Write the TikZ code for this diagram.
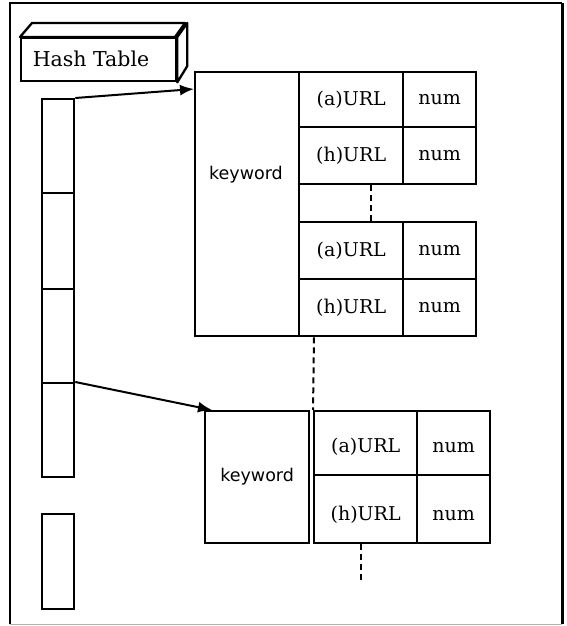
\documentclass[tikz,border=0pt]{standalone}
\usepackage{fontspec}
\setmainfont{DejaVu Serif}
\newfontfamily\kwfont{DejaVu Sans}
\usetikzlibrary{arrows.meta}
\begin{document}
\begin{tikzpicture}[x=1pt,y=-1pt,
  box/.style={draw=black,line width=2.3pt,inner sep=0pt,anchor=north west,fill=white},
  urltxt/.style={font=\fontsize{19}{19}\selectfont,inner sep=0pt},
  kwtxt/.style={font=\kwfont\fontsize{17.5}{17.5}\selectfont,inner sep=0pt},
  dashedline/.style={line width=2pt,dash pattern=on 6pt off 4pt},
  ptr/.style={line width=2pt,-{Latex[length=14pt,width=11pt]}}]
\useasboundingbox (0,0) rectangle (566,626);
% frame
\coordinate (f1) at (10,3);
\coordinate (f2) at (562,3);
\coordinate (f3) at (562,624);
\coordinate (f4) at (10,624);
\draw[line width=2.3pt] (f4) -- (f1) -- (f2);
\draw[line width=3pt] (f2) -- (f3);
\draw[line width=1pt,gray!60] (f3) -- (f4);
% Hash Table 3D box
\node[box,minimum width=155pt,minimum height=43pt] (ht) at (20,37) {};
\draw[line width=2.3pt,fill=white,line join=round] (ht.north west) -- ++(12,-14) -- ++(153,0) -- ++(-10,14) -- cycle;
\draw[line width=2.3pt,fill=white,line join=round] (ht.north east) -- ++(10,-14) -- ++(0,43) -- (ht.south east) -- cycle;
\node[font=\fontsize{20.5}{20.5}\selectfont,inner sep=0pt] (httxt) at (91,59) {Hash Table};
% hash column
\node[box,minimum width=32pt,minimum height=94pt] (h1) at (41,98) {};
\node[box,minimum width=32pt,minimum height=96pt] (h2) at (41,192) {};
\node[box,minimum width=32pt,minimum height=94pt] (h3) at (41,288) {};
\node[box,minimum width=32pt,minimum height=94pt] (h4) at (41,382) {};
\node[box,minimum width=32pt,minimum height=95pt] (h5) at (41,513) {};
% first keyword block
\node[box,minimum width=104pt,minimum height=264pt] (k1) at (194,71) {};
\node[kwtxt] (k1t) at (246,175) {keyword};
\node[box,minimum width=104pt,minimum height=55pt] (a1) at (298,71) {};
\node[box,minimum width=73pt,minimum height=55pt] (n1) at (402,71) {};
\node[box,minimum width=104pt,minimum height=57pt] (b1) at (298,126) {};
\node[box,minimum width=73pt,minimum height=57pt] (m1) at (402,126) {};
\node[box,minimum width=104pt,minimum height=57pt] (c1) at (298,221) {};
\node[box,minimum width=73pt,minimum height=57pt] (p1) at (402,221) {};
\node[box,minimum width=104pt,minimum height=57pt] (d1) at (298,278) {};
\node[box,minimum width=73pt,minimum height=57pt] (q1) at (402,278) {};
\node[urltxt] (a1t) at (a1.center) {(a)URL};
\node[urltxt] (n1t) at (n1.center) {num};
\node[urltxt] (b1t) at (b1.center) {(h)URL};
\node[urltxt] (m1t) at (m1.center) {num};
\node[urltxt] (c1t) at (c1.center) {(a)URL};
\node[urltxt] (p1t) at (p1.center) {num};
\node[urltxt] (d1t) at (d1.center) {(h)URL};
\node[urltxt] (q1t) at (q1.center) {num};
% second keyword block
\node[box,minimum width=104pt,minimum height=132pt] (k2) at (204,410) {};
\node[kwtxt] (k2t) at (k2.center) {keyword};
\node[box,minimum width=103pt,minimum height=64pt] (a2) at (313,410) {};
\node[box,minimum width=73pt,minimum height=64pt] (n2) at (416,410) {};
\node[box,minimum width=103pt,minimum height=68pt] (b2) at (313,474) {};
\node[box,minimum width=73pt,minimum height=68pt] (m2) at (416,474) {};
\node[urltxt] (a2t) at ([yshift=-4pt]a2.center) {(a)URL};
\node[urltxt] (n2t) at ([yshift=-4pt]n2.center) {num};
\node[urltxt] (b2t) at ([yshift=-6pt]b2.center) {(h)URL};
\node[urltxt] (m2t) at ([yshift=-6pt]m2.center) {num};
% dashed continuations
\coordinate (e3) at (361,580);
\draw[dashedline] ([xshift=73pt]b1.south west) -- ([xshift=73pt]c1.north west);
\draw[dashedline] ([xshift=16pt]d1.south west) -- (a2.north west);
\draw[dashedline] ([xshift=48pt]b2.south west) -- (e3);
% pointers
\draw[ptr] (h1.north east) -- ([yshift=-18pt]k1.north west);
\draw[ptr] (h4.north east) -- ([xshift=8pt]k2.north west);
\end{tikzpicture}
\end{document}
